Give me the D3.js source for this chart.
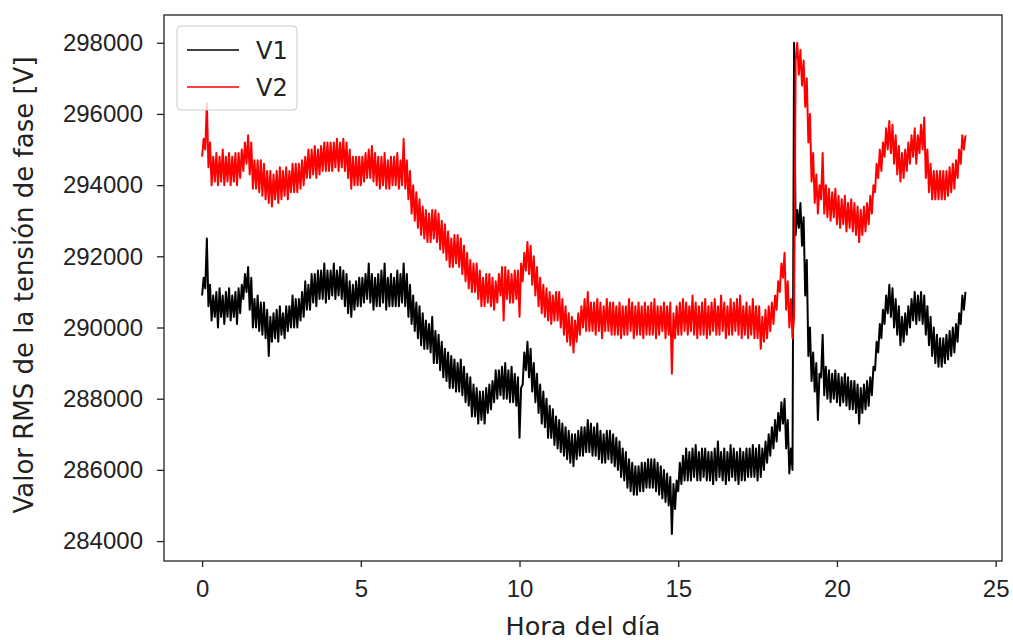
<!DOCTYPE html>
<html>
<head>
<meta charset="utf-8">
<script src="https://cdn.jsdelivr.net/npm/d3@7"></script>
<style>
  body { margin: 0; background: #fff; }
  svg { display: block; font-family: "DejaVu Sans", sans-serif; }
</style>
</head>
<body>
<div id="chart"></div>
<script>
// tick labels
const xTicks = [0, 5, 10, 15, 20, 25];
const yTicks = [284000, 286000, 288000, 290000, 292000, 294000, 296000, 298000];

// RMS phase voltage, every 0.1 h from 0 to 24 h.
// Each entry is [low, high] of the noisy trace inside that 0.1 h slot.
const v1 = [
  [290900,291400],[291100,292500],[290600,291200],[290200,290900],[290300,291000],[290000,291100],[290300,290900],[290100,291000],[290300,291100],[290200,290900],
  [290300,291000],[290100,291100],[290400,291200],[290800,291500],[291000,291700],[290500,291400],[290000,290800],[290000,290900],[289900,290700],[289800,290700],
  [289700,290500],[289200,290300],[289600,290400],[289700,290500],[289600,290600],[289800,290400],[289700,290600],[289900,290600],[290000,290900],[290000,290800],
  [290000,290800],[290200,291000],[290300,291300],[290500,291200],[290500,291500],[290700,291500],[290600,291600],[290800,291600],[290800,291800],[290700,291600],
  [290800,291600],[290900,291800],[290800,291600],[290900,291700],[290800,291600],[290600,291500],[290400,291300],[290300,291200],[290500,291300],[290600,291400],
  [290600,291400],[290700,291500],[290800,291800],[290700,291500],[290500,291400],[290600,291500],[290600,291600],[290700,291800],[290500,291400],[290600,291500],
  [290600,291400],[290600,291600],[290600,291500],[290700,291800],[290600,291500],[290300,291200],[290100,290900],[289900,290700],[289700,290600],[289500,290400],
  [289400,290200],[289400,290100],[289300,290300],[289000,289900],[289000,289800],[288800,289600],[288600,289400],[288500,289300],[288300,289200],[288300,289100],
  [288200,289000],[288200,289100],[288100,288900],[287900,288700],[287800,288600],[287500,288400],[287500,288300],[287300,288200],[287400,288200],[287300,288300],
  [287600,288400],[287700,288500],[287900,288800],[288000,288800],[288100,288900],[288000,289000],[288000,288800],[287900,288900],[287900,288700],[287800,288600],
  [286900,288300],[288400,289300],[288800,289600],[288600,289400],[288200,289000],[287900,288700],[287600,288400],[287300,288200],[287200,288000],[286900,287800],
  [286900,287700],[286700,287500],[286600,287400],[286500,287300],[286400,287200],[286300,287100],[286200,287000],[286100,287000],[286300,287100],[286400,287200],
  [286400,287200],[286500,287400],[286500,287300],[286400,287200],[286400,287300],[286300,287100],[286200,287000],[286200,287100],[286300,287100],[286200,287000],
  [286100,286900],[286000,286800],[285800,286600],[285700,286500],[285500,286300],[285400,286200],[285300,286100],[285300,286100],[285400,286200],[285400,286200],
  [285500,286300],[285500,286300],[285500,286300],[285400,286200],[285300,286100],[285200,286000],[285100,285900],[285000,285800],[284200,285600],[284900,285700],
  [285400,286200],[285600,286400],[285700,286600],[285700,286500],[285700,286600],[285800,286700],[285700,286500],[285700,286600],[285800,286600],[285700,286500],
  [285700,286500],[285600,286600],[285700,286800],[285800,286500],[285700,286600],[285600,286500],[285700,286700],[285800,286600],[285700,286500],[285600,286600],
  [285700,286500],[285700,286600],[285800,286600],[285800,286700],[285800,286600],[285700,286700],[285800,286600],[286000,286800],[286200,287000],[286400,287200],
  [286600,287400],[286800,287600],[287100,287900],[287300,288000],[286600,287400],[285900,286600],[286000,298000],[292600,293300],[292800,293500],[292300,293100],
  [290900,291900],[289200,290000],[288500,289300],[288200,289000],[287400,288700],[288600,289800],[288100,288900],[288000,288800],[287900,288700],[288000,288800],
  [287900,288700],[287800,288600],[287900,288700],[287800,288600],[287700,288500],[287700,288500],[287600,288400],[287300,288300],[287600,288400],[287700,288500],
  [287800,288600],[288100,288900],[288800,289600],[289300,290100],[289700,290500],[290100,290900],[290400,291200],[290300,291100],[290000,290800],[289800,290600],
  [289500,290300],[289600,290400],[289800,290600],[290000,290800],[290200,291000],[290100,290900],[290200,291000],[290100,290900],[289800,290600],[289500,290300],
  [289200,290000],[289000,289800],[288900,289700],[288900,289700],[289000,289800],[289100,289900],[289200,290000],[289300,290100],[289600,290400],[290100,290900],
  [290500,291000]
];

const v2 = [
  [294800,295300],[295000,296300],[294500,295200],[294000,294800],[294100,294900],[294000,294800],[294100,295000],[294000,294800],[294100,294900],[294000,294800],
  [294100,294900],[294000,294900],[294200,295000],[294400,295200],[294600,295400],[294300,295200],[293900,294700],[293900,294700],[293800,294700],[293700,294600],
  [293600,294400],[293500,294400],[293400,294300],[293600,294400],[293500,294500],[293600,294400],[293700,294500],[293600,294400],[293800,294600],[293800,294600],
  [293800,294600],[293900,294700],[294000,294800],[294200,295000],[294200,295000],[294300,295100],[294200,295000],[294300,295100],[294400,295200],[294400,295200],
  [294400,295200],[294400,295200],[294500,295300],[294400,295200],[294500,295300],[294400,295200],[294200,295000],[293900,294800],[294000,294800],[294000,294800],
  [294000,294800],[294100,294900],[294200,295000],[294200,295100],[294100,294900],[294000,294800],[293900,294800],[294000,294900],[293900,294700],[293900,294800],
  [294000,294800],[294000,294900],[293900,294700],[294000,295300],[293900,294700],[293600,294400],[293200,294000],[293000,293800],[292800,293600],[292600,293400],
  [292500,293300],[292400,293200],[292400,293300],[292500,293300],[292400,293200],[292200,293000],[292100,292900],[291900,292700],[291700,292500],[291700,292600],
  [291800,292600],[291700,292500],[291500,292300],[291300,292100],[291100,291900],[291000,291800],[291000,291800],[290800,291600],[290600,291400],[290600,291500],
  [290700,291500],[290600,291400],[290500,291300],[290700,291500],[290900,291700],[290200,291700],[290800,291600],[290700,291500],[290700,291600],[290800,291600],
  [290300,291800],[291300,292100],[291600,292400],[291500,292300],[291200,292000],[290900,291700],[290600,291400],[290400,291200],[290300,291100],[290200,291000],
  [290100,290900],[290200,291000],[290200,291000],[290000,290800],[289800,290600],[289600,290400],[289500,290300],[289300,290200],[289600,290400],[289800,290600],
  [290000,290800],[289900,291000],[289900,290700],[289900,290700],[289800,290800],[289900,290700],[289700,290600],[289900,290800],[289900,290700],[289800,290700],
  [289800,290600],[289800,290700],[289700,290600],[289800,290600],[289800,290800],[289900,290700],[289700,290600],[289800,290700],[289800,290600],[289700,290700],
  [289800,290600],[289800,290700],[289800,290800],[289700,290600],[289800,290600],[289900,290700],[289700,290600],[289800,290700],[288700,290400],[289700,290600],
  [289800,290700],[289800,290800],[289900,290700],[289800,290600],[289900,290900],[289800,290700],[289700,290600],[289800,290700],[289800,290800],[289700,290600],
  [289800,290700],[289900,290800],[289800,290600],[289800,290900],[289900,290700],[289700,290600],[289800,290800],[289800,290700],[289900,290800],[289800,290900],
  [289700,290600],[289800,290700],[289700,290600],[289800,290800],[289700,290600],[289700,290600],[289400,290300],[289600,290500],[289700,290600],[289900,290700],
  [290100,290900],[290500,291300],[291000,291800],[291400,292100],[290500,291300],[290000,290800],[289700,290300],[297500,298000],[297100,297800],[296800,297500],
  [296200,297000],[295200,296000],[294100,294900],[293500,294300],[293200,294000],[293600,294900],[293200,294000],[293100,293900],[293000,293800],[293100,293900],
  [292900,293700],[292800,293600],[292900,293700],[292700,293500],[292800,293600],[292700,293500],[292600,293400],[292400,293300],[292600,293400],[292700,293500],
  [292900,293700],[293200,294000],[293800,294600],[294200,295000],[294400,295200],[294800,295600],[295000,295800],[294900,295700],[294600,295400],[294300,295100],
  [294100,294900],[294200,295000],[294400,295200],[294600,295400],[294800,295600],[294600,295400],[294900,295700],[295000,295900],[294200,295000],[293800,294600],
  [293600,294400],[293600,294400],[293600,294400],[293600,294400],[293600,294400],[293700,294500],[293800,294600],[293900,294700],[294200,295000],[294600,295400],
  [295000,295400]
];

const seriesNames = ["V1", "V2"];
const seriesColors = ["#000000", "#ff0000"];

const step = 0.1;
const hours = d3.range(v1.length).map(i => i * step);

const width = 1013, height = 640;
const margin = {top: 15, right: 11, bottom: 79, left: 164};
const innerW = width - margin.left - margin.right;
const innerH = height - margin.top - margin.bottom;

const svg = d3.select("#chart").append("svg")
  .attr("width", width)
  .attr("height", height);

const g = svg.append("g")
  .attr("transform", `translate(${margin.left},${margin.top})`);

const x = d3.scaleLinear().domain([-1.2, 25.2]).range([0, innerW]);
const y = d3.scaleLinear().domain([283440, 298780]).range([innerH, 0]);

// axes
const xAxis = g.append("g")
  .attr("transform", `translate(0,${innerH})`)
  .call(d3.axisBottom(x).tickValues(xTicks).tickSize(6).tickPadding(13));
const yAxis = g.append("g")
  .call(d3.axisLeft(y).tickValues(yTicks).tickFormat(d3.format("d")).tickSize(7).tickPadding(14));

[xAxis, yAxis].forEach(a => {
  a.select(".domain").remove();
  a.selectAll(".tick line").attr("stroke", "#222").attr("stroke-width", 1.3);
  a.selectAll(".tick text").attr("fill", "#222").style("font-size", "24px");
});

// lines: low then high of each slot, half a slot apart
const line = d3.line()
  .x(d => x(d[0]))
  .y(d => y(d[1]));

g.append("clipPath").attr("id", "clip")
  .append("rect").attr("width", innerW).attr("height", innerH);

[v1, v2].forEach((s, k) => {
  const pts = s.flatMap((p, i) => [[hours[i], p[0]], [hours[i] + step / 2, p[1]]]);
  g.append("path")
    .datum(pts)
    .attr("clip-path", "url(#clip)")
    .attr("fill", "none")
    .attr("stroke", seriesColors[k])
    .attr("stroke-width", 2)
    .attr("stroke-linejoin", "round")
    .attr("d", line);
});

// frame
g.append("rect")
  .attr("width", innerW)
  .attr("height", innerH)
  .attr("fill", "none")
  .attr("stroke", "#222")
  .attr("stroke-width", 1.3);

// axis labels
svg.append("text")
  .attr("x", margin.left + innerW / 2)
  .attr("y", 635)
  .attr("text-anchor", "middle")
  .attr("fill", "#222")
  .style("font-size", "25.5px")
  .text("Hora del día");

svg.append("text")
  .attr("transform", `translate(33,${margin.top + innerH / 2 - 3}) rotate(-90)`)
  .attr("text-anchor", "middle")
  .attr("fill", "#222")
  .style("font-size", "26px")
  .text("Valor RMS de la tensión de fase [V]");

// legend
const legend = g.append("g").attr("transform", "translate(13,11)");
legend.append("rect")
  .attr("width", 120)
  .attr("height", 84)
  .attr("rx", 4)
  .attr("fill", "#fff")
  .attr("fill-opacity", 0.8)
  .attr("stroke", "#ccc");

seriesNames.forEach((name, i) => {
  const row = legend.append("g").attr("transform", `translate(0,${24 + i * 37})`);
  row.append("line")
    .attr("x1", 10).attr("x2", 62)
    .attr("stroke", seriesColors[i])
    .attr("stroke-width", 1.6);
  row.append("text")
    .attr("x", 79)
    .attr("y", 8.5)
    .attr("fill", "#222")
    .style("font-size", "24px")
    .text(name);
});
</script>
</body>
</html>
